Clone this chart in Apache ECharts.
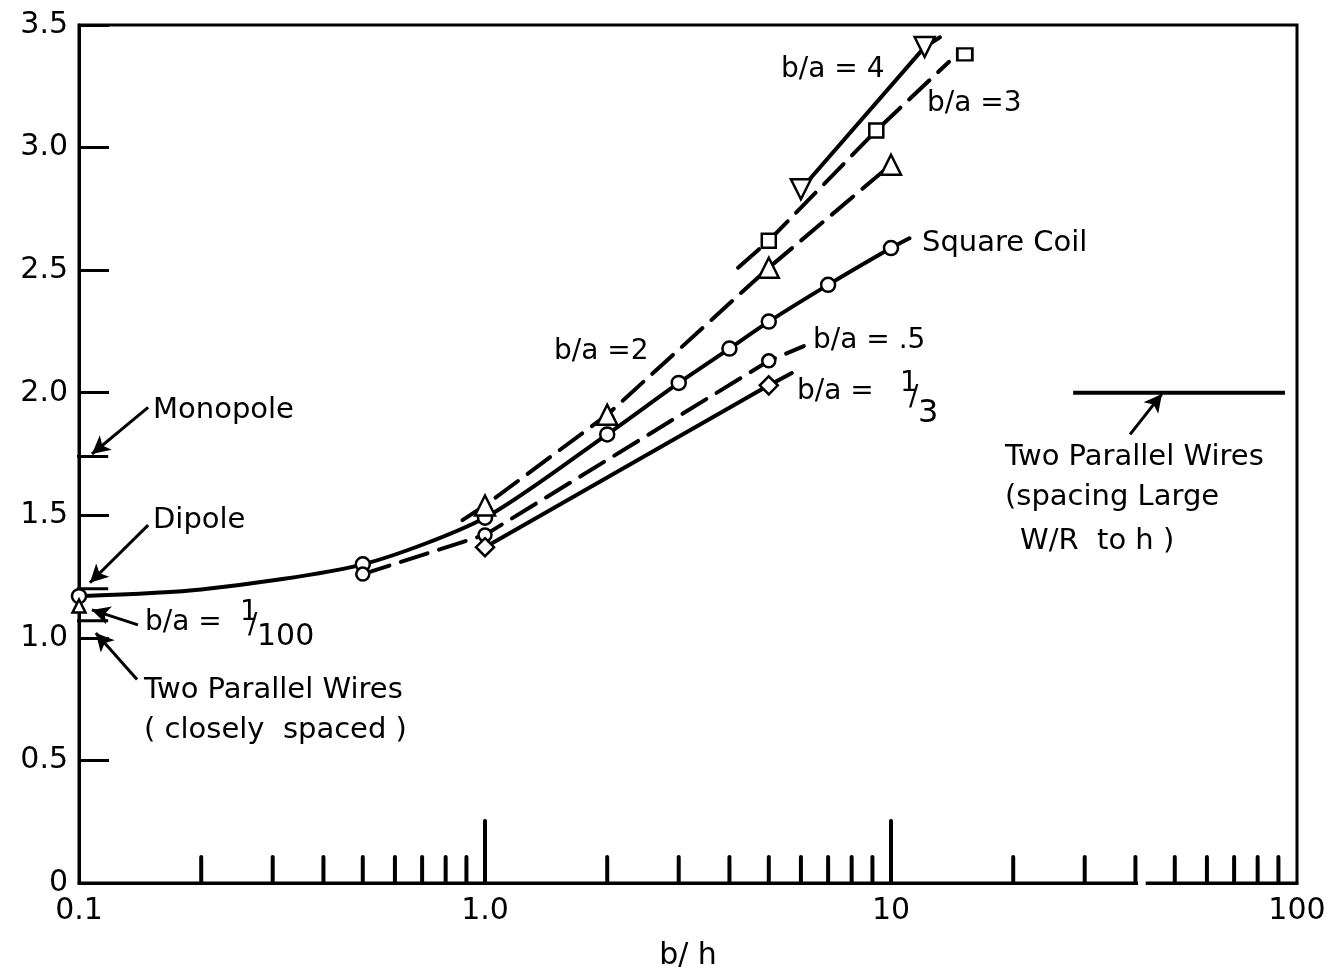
<!DOCTYPE html>
<html>
<head>
<meta charset="utf-8">
<script src="https://cdn.jsdelivr.net/npm/echarts@6/dist/echarts.min.js"></script>
<style>html,body{margin:0;padding:0;background:#fff}#c{width:1336px;height:976px}</style>
</head>
<body>
<div id="c"></div>
<script>
// ---- data ----
const yTickLabels = ['0', '0.5', '1.0', '1.5', '2.0', '2.5', '3.0', '3.5'];
const xTickLabels = { '0.1': '0.1', '1': '1.0', '10': '10', '100': '100' };
const xMinorTicks = [0.2,0.3,0.4,0.5,0.6,0.7,0.8,0.9,2,3,4,5,6,7,8,9,20,30,40,50,60,70,80,90];
const xMajorTicks = [1, 10];

// [b/h, value, hasMarker]
const squareCoil = [[0.1,1.17,1],[0.2,1.197,0],[0.5,1.30,1],[1,1.49,1],[2,1.83,1],[3,2.04,1],[4,2.18,1],[5,2.29,1],[7,2.44,1],[10,2.59,1],[11.1,2.63,0]];
const ba2 = [[0.88,1.48,0],[1,1.54,1],[2,1.91,1],[5,2.51,1],[10,2.93,1]];
const ba3 = [[4.2,2.51,0],[5,2.62,1],[9.2,3.07,1],[13.9,3.35,0]];
const ba3Extra = [[15.2,3.38]];
const ba4 = [[6,2.83,1],[12.1,3.41,1],[13.2,3.45,0]];
const ba05 = [[0.5,1.26,1],[1,1.42,1],[5,2.13,1],[6.1,2.19,0]];
const ba13 = [[1,1.37,1],[5,2.03,1],[5.7,2.08,0]];
const ba100 = [[0.1,1.13]];
const monopoleLevel = [[0.089,1.74],[0.118,1.74]];
const dipoleLevel = [[0.089,1.20],[0.118,1.20]];
const closeWiresLevel = [[0.089,1.07],[0.118,1.07]];
const farWiresLevel = [[28.1,2.0],[93.4,2.0]];
// arrows: [tail, tip]
const arrows = [
  [[0.148,1.94],[0.1076,1.75]],
  [[0.148,1.46],[0.1064,1.225]],
  [[0.1397,1.053],[0.1076,1.114]],
  [[0.139,0.83],[0.110,1.02]],
  [[38.8,1.83],[46.5,1.995]]
];
const axisGap = [[40.6,0],[42.4,0]];

// ---- styling ----
const FONT = 'DejaVu Sans';
const mk = (arr, sym, size, rot) => arr.map(d => d[2] ? {value:[d[0],d[1]], symbol:sym, symbolSize:size, symbolRotate:rot||0} : {value:[d[0],d[1]], symbol:'none'});
const markerStyle = {color:'#fff', borderColor:'#000', borderWidth:2.5, opacity:1};
function lineSeries(name, data, sym, size, dashed, rot, smooth) {
  return {
    name, type:'line', data: mk(data, sym, size, rot), smooth: smooth || false,
    lineStyle:{color:'#000', width:4, type: dashed ? [28,12] : 'solid', cap:'round'},
    itemStyle: markerStyle, showAllSymbol:true, z:5, animation:false
  };
}
function plainLine(data, width) {
  return {type:'line', data, symbol:'none', clip:false, lineStyle:{color:'#000', width:width||3}, z:4, animation:false};
}
function tickSeries(xs, len) {
  return {
    type:'custom', data: xs.map(x => [x, 0]), clip:false, z:6, animation:false,
    renderItem: (params, api) => {
      const p = api.coord([api.value(0), 0]);
      return {type:'line', shape:{x1:p[0], y1:p[1], x2:p[0], y2:p[1]-len}, style:{stroke:'#000', lineWidth:4, lineCap:'round'}};
    }
  };
}

const chart = echarts.init(document.getElementById('c'), null, {renderer:'canvas'});
const txt = (text, x, y, size) => ({type:'text', x, y, style:{text, font:(size||29)+'px "'+FONT+'"', fill:'#000', verticalAlign:'middle'}, z:20});

chart.setOption({
  backgroundColor:'#fff',
  animation:false,
  grid:{left:79, right:39, top:25, bottom:93, show:true, borderColor:'#000', borderWidth:3, backgroundColor:'transparent'},
  xAxis:{
    type:'log', logBase:10, min:0.1, max:100,
    axisLine:{show:true, lineStyle:{color:'#000', width:3}},
    axisTick:{show:false}, splitLine:{show:false}, minorTick:{show:false},
    axisLabel:{color:'#000', fontFamily:FONT, fontSize:30, margin:13,
      formatter: v => xTickLabels[String(+(+v).toPrecision(3))] || ''},
    name:'b/ h', nameLocation:'middle', nameGap:58,
    nameTextStyle:{color:'#000', fontFamily:FONT, fontSize:30}
  },
  yAxis:{
    type:'value', min:0, max:3.5, interval:0.5,
    axisLine:{show:true, lineStyle:{color:'#000', width:3}},
    axisTick:{show:true, inside:true, length:30, lineStyle:{color:'#000', width:3}},
    splitLine:{show:false},
    axisLabel:{color:'#000', fontFamily:FONT, fontSize:30, margin:11,
      formatter: v => yTickLabels[Math.round(v/0.5)]}
  },
  series:[
    tickSeries(xMinorTicks, 26),
    tickSeries(xMajorTicks, 62),
    Object.assign(plainLine(axisGap, 8), {lineStyle:{color:'#fff', width:8}, z:7}),
    plainLine(monopoleLevel, 3),
    plainLine(dipoleLevel, 3),
    plainLine(closeWiresLevel, 3),
    plainLine(farWiresLevel, 4),
    {type:'line', data:[], clip:false, animation:false, z:8,
      markLine:{silent:true, animation:false, symbolSize:[14,18], label:{show:false},
        lineStyle:{color:'#000', width:3, type:'solid'},
        data: arrows.map(a => [{coord:a[0], symbol:'none'}, {coord:a[1], symbol:'arrow'}])}},
    lineSeries('Square Coil', squareCoil, 'circle', 14, false, 0, 0.25),
    lineSeries('b/a=2', ba2, 'triangle', 20, true),
    lineSeries('b/a=3', ba3, 'rect', 14, true),
    {type:'scatter', data:ba3Extra, symbol:'rect', symbolSize:[15,12], itemStyle:markerStyle, z:6, animation:false},
    lineSeries('b/a=4', ba4, 'triangle', 20, false, 180),
    lineSeries('b/a=.5', ba05, 'circle', 13, true),
    lineSeries('b/a=1/3', ba13, 'diamond', 18, false),
    {type:'scatter', data:ba100, symbol:'triangle', symbolSize:13, clip:false, itemStyle:markerStyle, z:6, animation:false}
  ],
  graphic:[
    txt('b/a = 4', 781, 70, 28),
    txt('b/a =3', 927, 104, 28),
    txt('Square Coil', 922, 243),
    txt('b/a =2', 554, 352, 28),
    txt('b/a = .5', 813, 341, 28),
    txt('b/a =', 797, 392, 28),
    txt('1', 900, 384, 28),
    txt('/', 909, 398, 28),
    txt('3', 918, 414, 32),
    txt('Monopole', 153, 410),
    txt('Dipole', 153, 520),
    txt('b/a =', 145, 623, 28),
    txt('1', 240, 613, 28),
    txt('/', 248, 626, 28),
    txt('100', 257, 637, 30),
    txt('Two Parallel Wires', 144, 690),
    txt('( closely  spaced )', 144, 730),
    txt('Two Parallel Wires', 1005, 457),
    txt('(spacing Large', 1005, 497),
    txt('W/R  to h )', 1020, 541)
  ]
});
</script>
</body>
</html>
